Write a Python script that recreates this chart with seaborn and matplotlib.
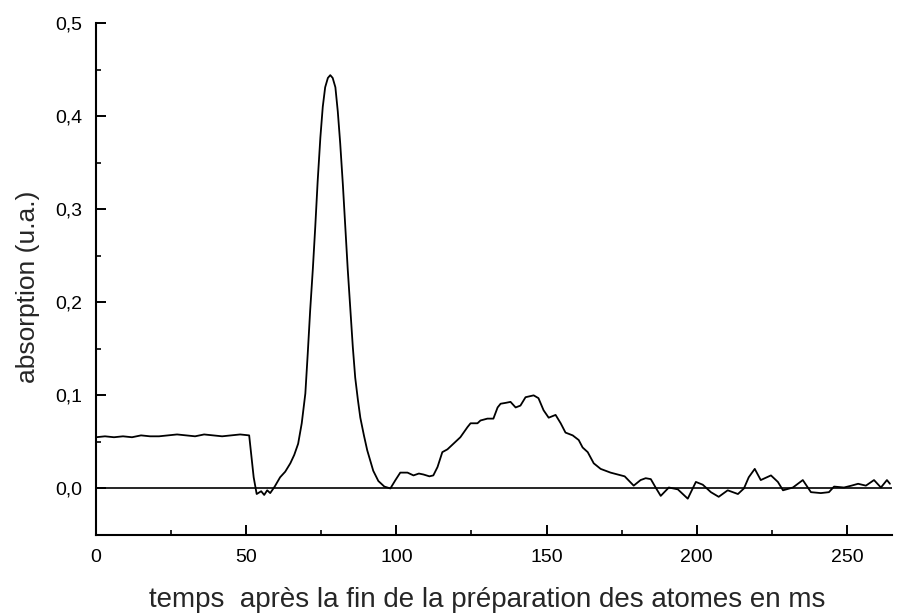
import numpy as np
import pandas as pd
import matplotlib
matplotlib.use('Agg')
import matplotlib.pyplot as plt
from matplotlib.ticker import MultipleLocator, FuncFormatter
import seaborn as sns

# absorption signal (time in ms, absorption in a.u.)
temps = [0, 3, 6, 9, 12, 15, 18, 21, 24, 27, 30, 33, 36, 39, 42, 45, 48, 51,
         52.5, 53.5, 55, 56, 57, 58, 59.5,
         61.3, 63, 64.7, 66, 67.3, 68.5, 69.7, 70.5, 71.3, 72.2, 73, 73.8,
         74.7, 75.5, 76.3, 77.2, 78, 78.8, 79.7, 80.5, 81.3, 82.2, 83, 83.8,
         84.7, 85.5, 86.3, 87.2, 88, 89.2, 90.3, 92.3, 94, 96, 98, 99.7,
         101.3, 103.7, 105.7, 107.5, 109, 111, 112.3, 113.7, 115.3, 117,
         119, 121.3, 123.7, 124.7, 127, 128, 130.3, 132.3, 133.7, 134.7,
         136.5, 138, 139.7, 141.3, 143, 145.7, 147.3, 149, 150.7, 153,
         154.7, 156.3, 158.7, 160.7, 162, 163.7, 165.7, 168, 171.3, 173.7,
         176, 179, 181.3, 183, 184.7, 186.3, 188, 190.7, 193.7, 197, 199.7,
         202, 204.7, 207.3, 210.3, 213.7, 215.7, 217.3, 219.3, 221.3,
         224.7, 227, 228.7, 232, 235.3, 238, 241.3, 244, 245.7, 249, 251.5,
         253.7, 256.3, 259, 261.3, 263.3, 264.3]
absorption = [0.055, 0.056, 0.055, 0.056, 0.055, 0.057, 0.056, 0.056, 0.057,
              0.058, 0.057, 0.056, 0.058, 0.057, 0.056, 0.057, 0.058, 0.057,
              0.012, -0.006, -0.003, -0.007, -0.002, -0.005, 0.002,
              0.012, 0.018, 0.027, 0.036, 0.048, 0.07, 0.102, 0.145, 0.191,
              0.236, 0.281, 0.330, 0.377, 0.410, 0.431, 0.441, 0.444, 0.441,
              0.431, 0.405, 0.371, 0.326, 0.281, 0.236, 0.191, 0.152, 0.119,
              0.095, 0.076, 0.057, 0.041, 0.019, 0.008, 0.002, 0.0, 0.009,
              0.017, 0.017, 0.014, 0.016, 0.015, 0.013, 0.014, 0.023, 0.039,
              0.042, 0.048, 0.055, 0.066, 0.070, 0.070, 0.073, 0.075, 0.075,
              0.087, 0.091, 0.092, 0.093, 0.087, 0.089, 0.098, 0.100, 0.097,
              0.084, 0.076, 0.079, 0.070, 0.060, 0.057, 0.052, 0.044, 0.039,
              0.027, 0.021, 0.017, 0.015, 0.013, 0.003, 0.009, 0.011, 0.010,
              0.001, -0.008, 0.001, -0.001, -0.011, 0.007, 0.004, -0.004,
              -0.009, -0.002, -0.006, 0.0, 0.012, 0.021, 0.009, 0.014, 0.007,
              -0.002, 0.001, 0.009, -0.004, -0.005, -0.004, 0.002, 0.001,
              0.003, 0.005, 0.003, 0.009, 0.001, 0.009, 0.005]

df = pd.DataFrame({'temps': temps, 'absorption': absorption})

sns.set_style('ticks')
plt.rcParams['font.family'] = ['Liberation Sans', 'DejaVu Sans']

fig = plt.figure(figsize=(9.07, 6.14), dpi=100)
ax = fig.add_axes([0.1058, 0.1287, 0.8777, 0.8338])

sns.lineplot(data=df, x='temps', y='absorption', color='black', linewidth=1.3,
             estimator=None, sort=False, ax=ax)
ax.axhline(0, color='black', linewidth=1.2, zorder=1)

ax.set_xlim(0, 265)
ax.set_ylim(-0.05, 0.5)

ax.xaxis.set_major_locator(MultipleLocator(50))
ax.xaxis.set_minor_locator(MultipleLocator(25))
ax.yaxis.set_major_locator(MultipleLocator(0.1))
ax.yaxis.set_minor_locator(MultipleLocator(0.05))
ax.yaxis.set_major_formatter(FuncFormatter(lambda v, p: f'{v:.1f}'.replace('.', ',')))

ax.tick_params(which='major', direction='in', length=7, width=1.4, labelsize=14,
               colors='black', pad=10)
ax.tick_params(which='minor', direction='in', length=3.5, width=1.4)

sns.despine(ax=ax)
for s in ['left', 'bottom']:
    ax.spines[s].set_linewidth(1.5)
    ax.spines[s].set_color('black')

ax.set_xlabel('temps  après la fin de la préparation des atomes en ms', fontsize=20)
ax.set_ylabel('absorption (u.a.)', fontsize=19)
ax.xaxis.set_label_coords(0.491, -0.101)
ax.yaxis.set_label_coords(-0.070, 0.484)

fig.savefig('out.png', dpi=100)
